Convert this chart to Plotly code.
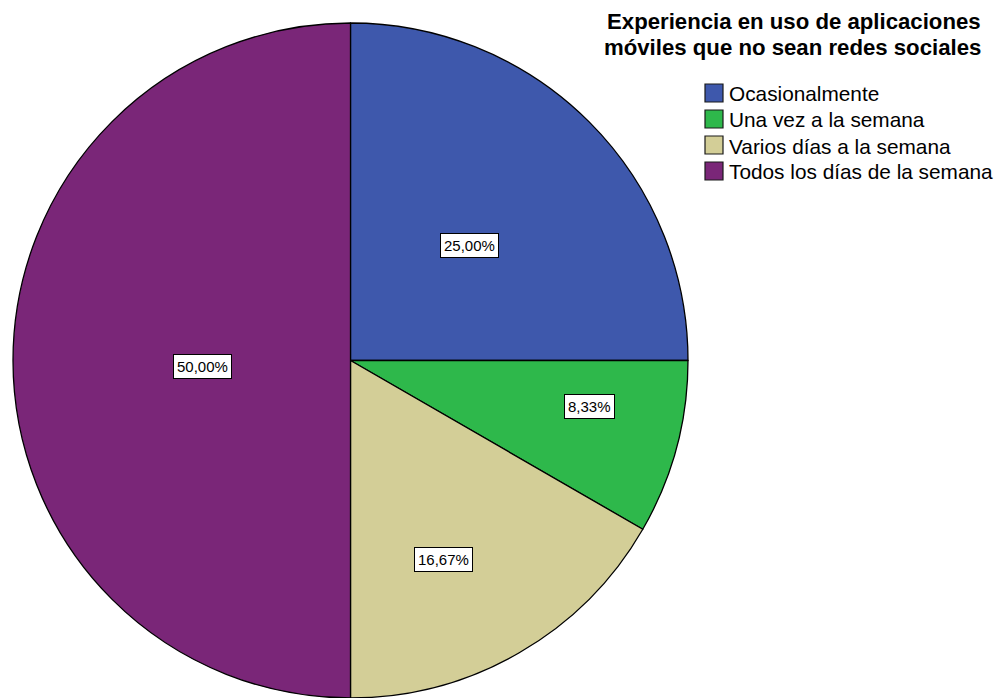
import math
import plotly.graph_objects as go

categories = ["Ocasionalmente", "Una vez a la semana", "Varios días a la semana", "Todos los días de la semana"]
counts = [6, 2, 4, 12]
colors = ["#3E58AC", "#2EB84B", "#D3CE97", "#7A2678"]
title_lines = ["Experiencia en uso de aplicaciones", "móviles que no sean redes sociales"]

W, H = 995, 698
FONT = "Liberation Sans, Arial, sans-serif"
dom_x = [13 / W, 688 / W]
dom_y = [0.0, 675 / H]


def px_x(v):
    return v / W


def px_y(v):
    return 1 - v / H


fig = go.Figure()
fig.add_trace(go.Pie(
    labels=categories,
    values=counts,
    marker=dict(colors=colors, line=dict(color="#000000", width=1.3)),
    sort=False,
    direction="clockwise",
    rotation=0,
    textinfo="none",
    hoverinfo="label+percent",
    domain=dict(x=dom_x, y=dom_y),
    showlegend=False,
))

# percentage label boxes placed from data (cumulative angles)
label_r = [0.49, 0.72, 0.65, 0.44]
label_shift_deg = [1, -4, 5, -2.5]
cx = (dom_x[0] + dom_x[1]) / 2 * W
cy = H - (dom_y[0] + dom_y[1]) / 2 * H
R = min((dom_x[1] - dom_x[0]) * W, (dom_y[1] - dom_y[0]) * H) / 2
total = sum(counts)
cum = 0
for i, v in enumerate(counts):
    frac = v / total
    mid = (cum + frac / 2) * 2 * math.pi + math.radians(label_shift_deg[i])
    cum += frac
    lx = cx + label_r[i] * R * math.sin(mid)
    ly = cy - label_r[i] * R * math.cos(mid)
    txt = f"{frac * 100:.2f}".replace(".", ",") + "%"
    fig.add_annotation(
        x=px_x(lx), y=px_y(ly), xref="paper", yref="paper",
        xanchor="center", yanchor="middle",
        text=txt, showarrow=False,
        font=dict(family=FONT, size=15, color="#000000"),
        bgcolor="#FFFFFF", bordercolor="#000000", borderwidth=1, borderpad=3,
    )

# title (two lines, right aligned)
title_y = [21.5, 48]
for line, ty in zip(title_lines, title_y):
    fig.add_annotation(
        x=px_x(983), y=px_y(ty), xref="paper", yref="paper",
        xanchor="right", yanchor="middle", showarrow=False,
        text="<b>" + line + "</b>",
        font=dict(family=FONT, size=22.2, color="#000000"),
    )

# legend
leg_x0, leg_y0, leg_dy, sq = 705, 93, 26, 18
for i, (cat, col) in enumerate(zip(categories, colors)):
    yc = leg_y0 + i * leg_dy
    fig.add_shape(
        type="rect", xref="paper", yref="paper",
        x0=px_x(leg_x0), x1=px_x(leg_x0 + sq),
        y0=px_y(yc - sq / 2), y1=px_y(yc + sq / 2),
        fillcolor=col, line=dict(color="#1a1a1a", width=1.2),
    )
    fig.add_annotation(
        x=px_x(leg_x0 + sq + 4), y=px_y(yc + 1), xref="paper", yref="paper",
        xanchor="left", yanchor="middle", showarrow=False,
        text=cat, font=dict(family=FONT, size=20.8, color="#000000"),
    )

fig.update_layout(
    width=W, height=H,
    margin=dict(l=0, r=0, t=0, b=0),
    paper_bgcolor="#FFFFFF",
    plot_bgcolor="#FFFFFF",
    font=dict(family=FONT, color="#000000"),
    showlegend=False,
)

fig.write_html("out.html")
